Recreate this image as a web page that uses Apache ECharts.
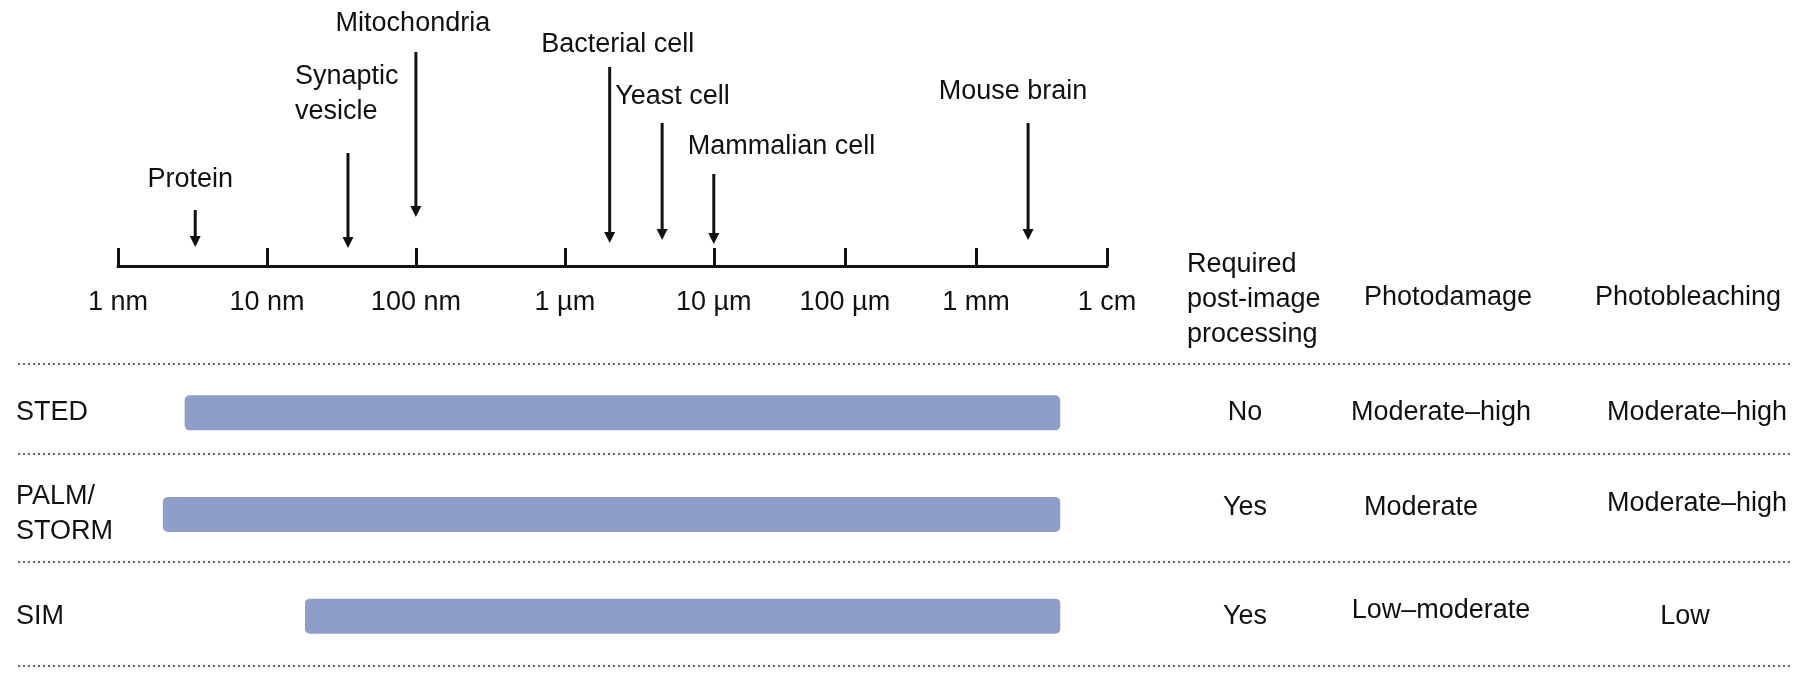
<!DOCTYPE html>
<html><head><meta charset="utf-8">
<script src="https://cdn.jsdelivr.net/npm/echarts@6/dist/echarts.min.js"></script>
<style>html,body{margin:0;padding:0;background:#fff}#c{width:1800px;height:673px}</style>
</head><body><div id="c"></div>
<script>
// ---- Scale: decade tick labels and their positions along the drawn axis (decade units)
const tickLabels = ['1 nm', '10 nm', '100 nm', '1 µm', '10 µm', '100 µm', '1 mm', '1 cm'];
const tickPos = [0, 1, 2, 3, 4, 4.88, 5.76, 6.64];
// ---- Reference objects and their sizes (nm)
const objectNames = ['Protein', 'Synaptic\nvesicle', 'Mitochondria', 'Bacterial cell', 'Yeast cell', 'Mammalian cell', 'Mouse brain'];
const objectSizes = [3.3, 35, 100, 2000, 4500, 10000, 2.5e6];
// ---- Techniques and the size range they cover (nm)
const techniques = ['STED', 'PALM/\nSTORM', 'SIM'];
const rangeStart = [2.8, 2, 18];
const rangeEnd = [4.4e6, 4.4e6, 4.4e6];
// ---- Table
const tableHeaders = ['Required\npost-image\nprocessing', 'Photodamage', 'Photobleaching'];
const postProcessing = ['No', 'Yes', 'Yes'];
const photodamage = ['Moderate–high', 'Moderate', 'Low–moderate'];
const photobleaching = ['Moderate–high', 'Moderate–high', 'Low'];

// ---- layout / style (not data)
const FONT = '"Liberation Sans", Arial, Helvetica, sans-serif';
const FS = 27;
const INK = '#111';
const BAR = '#8e9ec9';
// arrow layout: pixels above the axis line; label offset relative to arrow
const arrowLayout = [
  { top: 56, tip: 19, dx: -5, ly: 86, align: 'center' },
  { top: 113, tip: 18, dx: -53, ly: 171.5, align: 'left' },
  { top: 214, tip: 49, dx: -3, ly: 242, align: 'center' },
  { top: 199, tip: 23, dx: 8, ly: 221, align: 'center' },
  { top: 143, tip: 26, dx: -47, ly: 169, align: 'left' },
  { top: 92, tip: 22, dx: -26, ly: 119, align: 'left' },
  { top: 143, tip: 26, dx: -15, ly: 174, align: 'center' }
];
const tableColX = [1245, 1441, 1697];
const cellDx = [[0, 0, 0], [0, -20, 0], [0, 0, -12]];
const cellDy = [[0, 0, 0], [-7, -7, -11], [0, -6, 0]];
const headerX = [1187, 1448, 1688];
const headerY = [300, 298, 298];
const headerAlign = ['left', 'center', 'center'];
const separatorY = [364, 454, 562, 666];

function sizeToPos(nm) {
  const d = Math.log10(nm);
  let i = Math.floor(d);
  i = Math.max(0, Math.min(tickPos.length - 2, i));
  return tickPos[i] + (d - i) * (tickPos[i + 1] - tickPos[i]);
}

const chart = echarts.init(document.getElementById('c'), null, { renderer: 'canvas' });
const axisMax = tickPos[tickPos.length - 1];

const graphics = tableHeaders.map((h, i) => ({
  type: 'text', x: headerX[i], y: headerY[i],
  style: { text: h, align: headerAlign[i], verticalAlign: 'middle', fontSize: FS, lineHeight: 35, fontFamily: FONT, fill: INK }
})).concat(separatorY.map(y => ({
  type: 'line', shape: { x1: 18, y1: y, x2: 1791, y2: y },
  style: { stroke: '#666', lineWidth: 2, lineDash: [2, 3] }
})));

const option = {
  animation: false,
  backgroundColor: '#fff',
  textStyle: { fontFamily: FONT },
  grid: [
    { left: 118, right: 693, top: 0, height: 266 },
    { left: 118, right: 693, top: 362, height: 305 },
    { left: 18, right: 9, top: 362, height: 305 }
  ],
  xAxis: [
    {
      gridIndex: 0, type: 'value', min: 0, max: axisMax, position: 'bottom',
      axisLine: { show: true, onZero: false, lineStyle: { color: INK, width: 3 } },
      axisTick: { show: true, inside: true, length: 18, customValues: tickPos, lineStyle: { color: INK, width: 3 } },
      axisLabel: {
        show: true, customValues: tickPos, margin: 23, fontSize: FS, color: INK, fontFamily: FONT,
        formatter: function (v) {
          let best = 0;
          tickPos.forEach((p, i) => { if (Math.abs(p - v) < Math.abs(tickPos[best] - v)) best = i; });
          return tickLabels[best];
        }
      },
      splitLine: { show: false }
    },
    { gridIndex: 1, type: 'value', min: 0, max: axisMax, show: false },
    { gridIndex: 2, type: 'value', min: 18, max: 1791, show: false }
  ],
  yAxis: [
    { gridIndex: 0, type: 'value', min: 0, max: 1, show: false },
    {
      gridIndex: 1, type: 'category', data: techniques, inverse: true,
      axisLine: { show: false }, axisTick: { show: false }, splitLine: { show: false },
      axisLabel: { align: 'left', margin: 102, fontSize: FS, lineHeight: 35, color: INK, fontFamily: FONT }
    },
    {
      gridIndex: 2, type: 'category', data: techniques, inverse: true,
      axisLine: { show: false }, axisTick: { show: false }, axisLabel: { show: false }, splitLine: { show: false }
    }
  ],
  graphic: graphics,
  series: [
    {
      type: 'custom', xAxisIndex: 0, yAxisIndex: 0, clip: false,
      data: objectSizes.map((s, i) => [sizeToPos(s), 0, i]),
      encode: { x: 0, y: 1 },
      renderItem: function (params, api) {
        const i = api.value(2);
        const L = arrowLayout[i];
        const p = api.coord([api.value(0), 0]);
        const x = p[0], y0 = p[1];
        const headLen = 11, headW = 5.5;
        return {
          type: 'group',
          children: [
            { type: 'line', shape: { x1: x, y1: y0 - L.top, x2: x, y2: y0 - L.tip - headLen + 2 }, style: { stroke: INK, lineWidth: 3 } },
            { type: 'polygon', shape: { points: [[x - headW, y0 - L.tip - headLen], [x + headW, y0 - L.tip - headLen], [x, y0 - L.tip]] }, style: { fill: INK } },
            { type: 'text', x: x + L.dx, y: y0 - L.ly, style: { text: objectNames[i], align: L.align, verticalAlign: 'middle', fontSize: FS, lineHeight: 35, fontFamily: FONT, fill: INK } }
          ]
        };
      }
    },
    {
      type: 'custom', xAxisIndex: 1, yAxisIndex: 1, clip: false,
      data: techniques.map((t, i) => [sizeToPos(rangeStart[i]), sizeToPos(rangeEnd[i]), i]),
      encode: { x: [0, 1], y: 2 },
      renderItem: function (params, api) {
        const s = api.coord([api.value(0), api.value(2)]);
        const e = api.coord([api.value(1), api.value(2)]);
        const h = api.size([0, 1])[1] * 0.345;
        return { type: 'rect', shape: { x: s[0], y: s[1] - h / 2, width: e[0] - s[0], height: h, r: 5 }, style: { fill: BAR } };
      }
    },
    {
      type: 'custom', xAxisIndex: 2, yAxisIndex: 2, clip: false,
      data: techniques.map((t, i) => [18, i]),
      encode: { x: 0, y: 1 },
      renderItem: function (params, api) {
        const r = api.value(1);
        const cols = [postProcessing[r], photodamage[r], photobleaching[r]];
        return {
          type: 'group',
          children: cols.map((txt, c) => {
            const p = api.coord([tableColX[c], r]);
            return { type: 'text', x: p[0] + cellDx[r][c], y: p[1] + cellDy[r][c], style: { text: txt, align: 'center', verticalAlign: 'middle', fontSize: FS, fontFamily: FONT, fill: INK } };
          })
        };
      }
    }
  ]
};
chart.setOption(option);
</script>
</body></html>
